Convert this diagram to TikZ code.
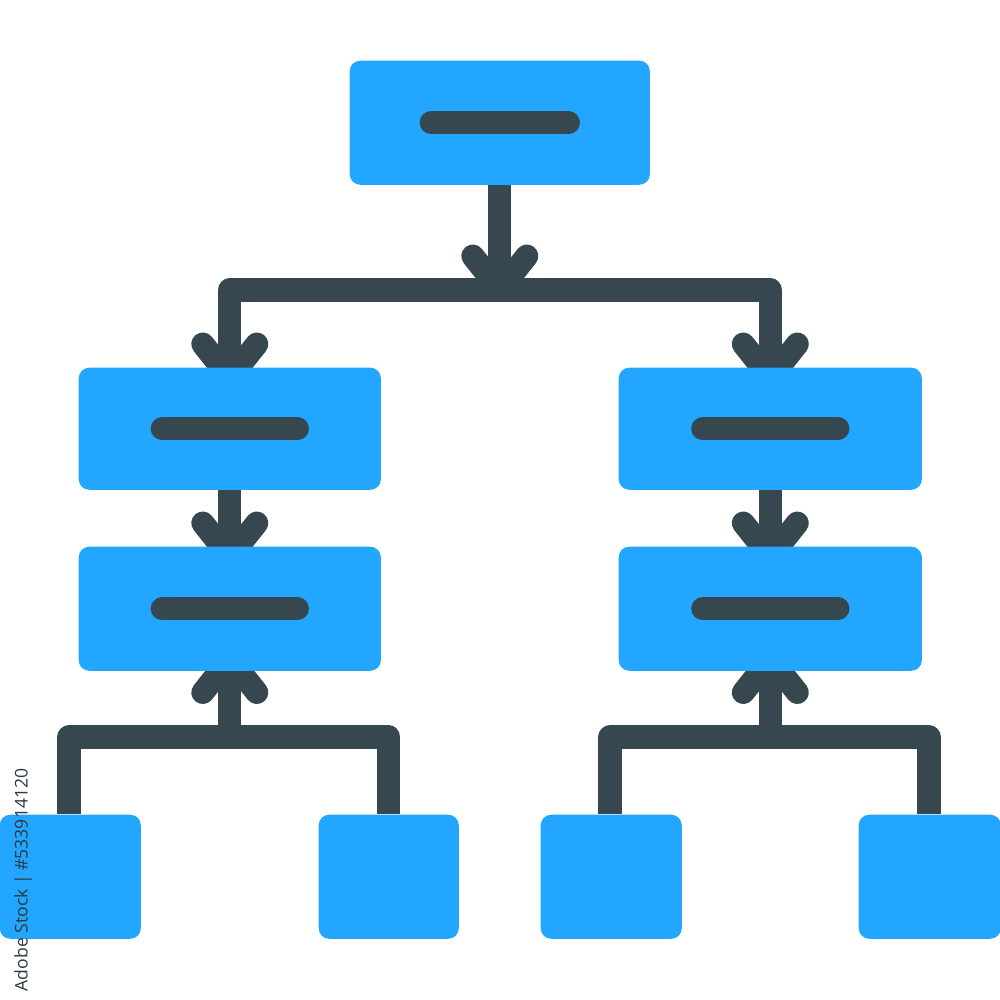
\documentclass[tikz,border=0pt]{standalone}
\usepackage{fontspec}
\setsansfont{Open Sans}
\usetikzlibrary{positioning}
\pgfdeclarelayer{edgelayer}
\pgfsetlayers{edgelayer,main}
\definecolor{boxblue}{HTML}{22A6FF}
\definecolor{wirecol}{HTML}{37474F}
\tikzset{box/.style={rectangle,fill=boxblue,rounded corners=3pt,inner sep=0pt,anchor=north west}}
\tikzset{dash bar/.style={line width=6.6pt,draw=wirecol,line cap=round}}
\tikzset{wire/.style={line width=6.55pt,draw=wirecol,line join=round}}
\tikzset{chevron/.style={line width=6.55pt,draw=wirecol,line cap=round,line join=round}}
\begin{document}
\begin{tikzpicture}[x=0.01cm,y=-0.01cm]
\useasboundingbox (2,2) rectangle (1002,1002);
\node[box,minimum width=3cm,minimum height=1.24cm] (T) at (351,62) {};
\node[box,minimum width=3.02cm,minimum height=1.22cm] (L1) at (80,369) {};
\node[box,minimum width=3.02cm,minimum height=1.24cm] (L2) at (80,548) {};
\node[box,minimum width=3.03cm,minimum height=1.22cm] (R1) at (620,369) {};
\node[box,minimum width=3.03cm,minimum height=1.24cm] (R2) at (620,548) {};
\node[box,minimum width=1.41cm,minimum height=1.24cm] (A) at (1,816) {};
\node[box,minimum width=1.4cm,minimum height=1.24cm] (B) at (320,816) {};
\node[box,minimum width=1.41cm,minimum height=1.24cm] (C) at (542,816) {};
\node[box,minimum width=1.42cm,minimum height=1.24cm] (D) at (860,816) {};
% dashes inside the boxes
\foreach \n/\w in {T/1.37cm,L1/1.35cm,L2/1.35cm,R1/1.35cm,R2/1.35cm}
\draw[dash bar] ([xshift=-\w/2]\n.center) -- ([xshift=\w/2]\n.center);
\begin{pgfonlayer}{edgelayer}
\coordinate (J) at (T.south |- 0,292);
\coordinate (JL) at (L2.south |- 0,739);
\coordinate (JR) at (R2.south |- 0,739);
\coordinate (AT) at (71,816);
\coordinate (CT) at (612,816);
\coordinate (DT) at (931,816);
\draw[wire] (L1.north) |- (J) -| (R1.north);
\draw[wire] (T.south) -- (J);
\draw[wire] (L1.south) -- (L2.north);
\draw[wire] (R1.south) -- (R2.north);
\draw[wire] (AT) |- (JL) -| (B.north);
\draw[wire] (CT) |- (JR) -| (DT);
\draw[wire] (L2.south) -- (JL);
\draw[wire] (R2.south) -- (JR);
% arrow heads
\foreach \p/\o in {J/0,L1.north/11,R1.north/11,L2.north/11,R2.north/11}
\draw[chevron] ([shift={(-27,\o-34)}]\p) -- ([shift={(0,\o)}]\p) -- ([shift={(27,\o-34)}]\p);
\foreach \p in {L2.south,R2.south}
\draw[chevron] ([shift={(-27,21)}]\p) -- ([shift={(0,-13)}]\p) -- ([shift={(27,21)}]\p);
\end{pgfonlayer}
\node[rotate=90,font=\sffamily\fontsize{5pt}{6pt}\selectfont,text=wirecol!80!black,anchor=east,inner sep=0pt] (S) at (25,770) {Adobe Stock | \#533914120};
\end{tikzpicture}
\end{document}
